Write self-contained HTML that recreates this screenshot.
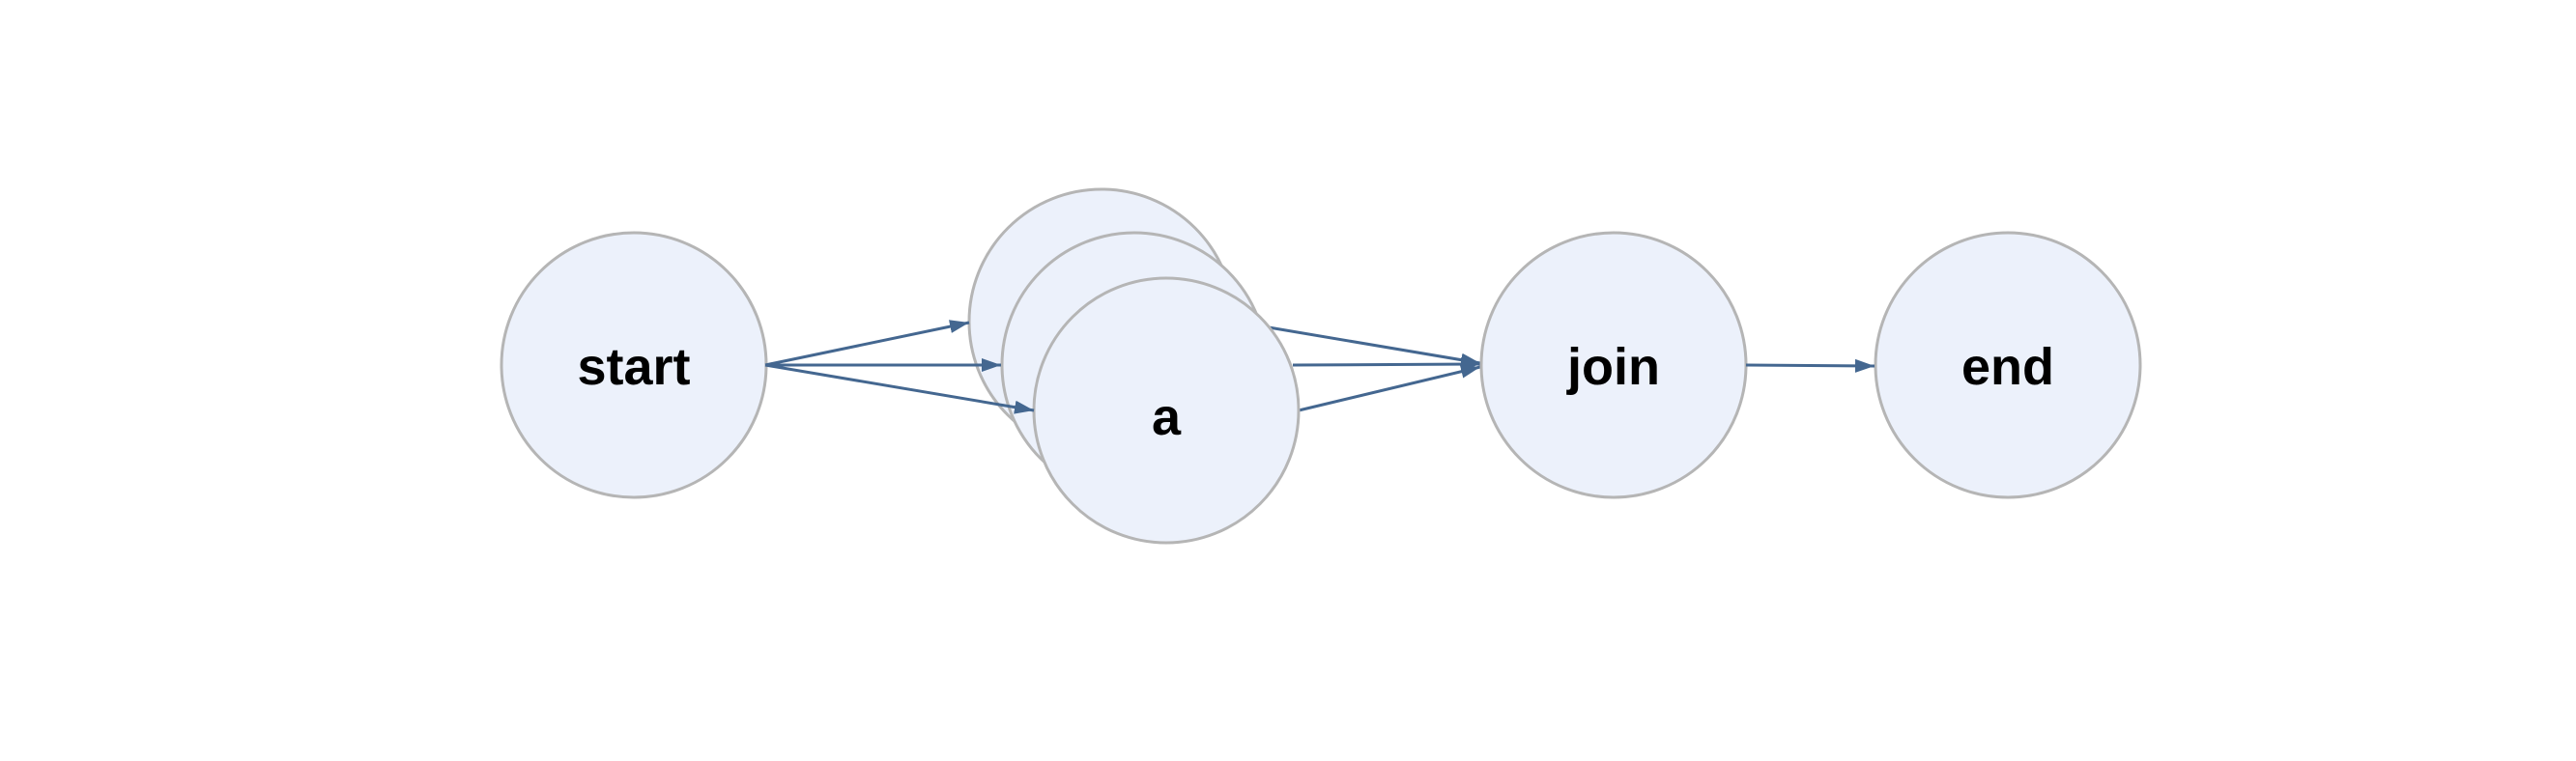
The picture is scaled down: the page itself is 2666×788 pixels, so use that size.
<!DOCTYPE html>
<html><head><meta charset="utf-8"><style>
html,body{margin:0;padding:0;background:#fff;}
svg{display:block;}
text{font-family:"Liberation Sans",sans-serif;font-weight:bold;font-size:54px;fill:#000;text-anchor:middle;dominant-baseline:central;}
</style></head><body>
<svg width="2666" height="788" viewBox="0 0 2666 788" xmlns="http://www.w3.org/2000/svg">
<defs>
<marker id="ah" markerWidth="20" markerHeight="14" refX="20" refY="7" orient="auto" markerUnits="userSpaceOnUse">
<path d="M0,0 L20,7 L0,14 Z" fill="#446790"/>
</marker>
</defs>
<g stroke="#446790" stroke-width="3" fill="none">
<line x1="1313" y1="339" x2="1532" y2="376" marker-end="url(#ah)"/>
<line x1="1338" y1="378" x2="1532" y2="377" marker-end="url(#ah)"/>
<line x1="1344" y1="425" x2="1532" y2="380" marker-end="url(#ah)"/>
</g>
<g fill="#ecf1fb" stroke="#b5b5b5" stroke-width="3">
<circle cx="656" cy="378" r="137"/>
<circle cx="1140" cy="333" r="137"/>
<circle cx="1174" cy="378" r="137"/>
<circle cx="1207" cy="425" r="137"/>
<circle cx="1670" cy="378" r="137"/>
<circle cx="2078" cy="378" r="137"/>
</g>
<g stroke="#446790" stroke-width="3" fill="none">
<line x1="792" y1="378" x2="1003" y2="334" marker-end="url(#ah)"/>
<line x1="792" y1="378" x2="1036" y2="378" marker-end="url(#ah)"/>
<line x1="792" y1="378" x2="1070" y2="425" marker-end="url(#ah)"/>
<line x1="1807" y1="378" x2="1940" y2="379" marker-end="url(#ah)"/>
</g>
<text x="656" y="380">start</text>
<text x="1207" y="432">a</text>
<text x="1670" y="380">join</text>
<text x="2078" y="380">end</text>
</svg>
</body></html>
